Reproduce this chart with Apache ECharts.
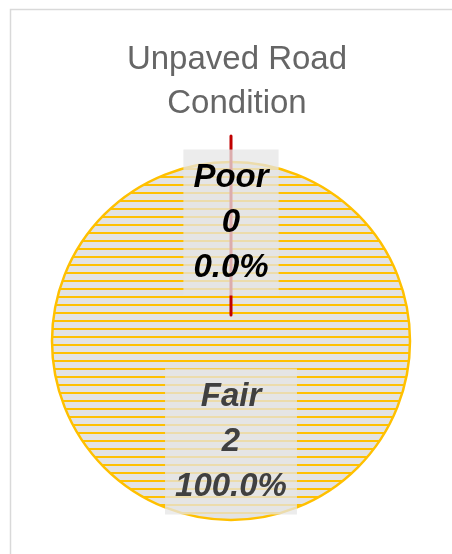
<!DOCTYPE html>
<html>
<head>
<meta charset="utf-8">
<script src="https://cdn.jsdelivr.net/npm/echarts@6/dist/echarts.min.js"></script>
<style>
  html, body { margin: 0; padding: 0; background: #fff; }
  #chart { width: 452px; height: 554px; }
</style>
</head>
<body>
<div id="chart"></div>
<script>
const categories = ['Poor', 'Fair']
const counts = [0, 2]
const titleText = 'Unpaved Road\nCondition'

// striped fill like the excel pattern
function makeStripes () {
  const c = document.createElement('canvas')
  c.width = 8
  c.height = 8
  const ctx = c.getContext('2d')
  ctx.fillStyle = '#e3e3e3'
  ctx.fillRect(0, 0, 8, 8)
  ctx.fillStyle = '#ffc000'
  ctx.fillRect(0, 0, 8, 2)
  return c
}

const chart = echarts.init(document.getElementById('chart'))
const total = counts.reduce((a, b) => a + b, 0)

chart.setOption({
  animation: false,
  title: {
    text: titleText,
    left: 232,
    top: 33,
    textAlign: 'center',
    textStyle: {
      fontFamily: 'Liberation Sans',
      fontSize: 33,
      fontWeight: 'normal',
      color: '#666',
      lineHeight: 44
    }
  },
  graphic: [{
    type: 'rect',
    shape: { x: 10.5, y: 9.5, width: 600, height: 700 },
    style: { fill: 'none', stroke: '#d9d9d9', lineWidth: 1.5 },
    z: -1
  }],
  series: [{
    type: 'pie',
    center: [231, 341],
    radius: 179,
    startAngle: 90,
    clockwise: true,
    minAngle: 0,
    selectedMode: 'single',
    selectedOffset: 26,
    avoidLabelOverlap: false,
    labelLine: { show: false },
    label: {
      show: true,
      position: 'inside',
      formatter: p => p.name + '\n' + p.value + '\n' + (total ? p.value / total * 100 : 0).toFixed(1) + '%',
      fontFamily: 'Liberation Sans',
      fontSize: 33,
      fontWeight: 'bold',
      fontStyle: 'italic',
      lineHeight: 45,
      backgroundColor: 'rgba(230,230,230,0.75)',
      padding: [6, 10, 5, 10]
    },
    data: categories.map((name, i) => {
      const item = { name: name, value: counts[i] }
      if (name === 'Poor') {
        item.selected = true
        item.itemStyle = { color: '#c00000', borderColor: '#c00000', borderWidth: 3 }
        item.label = { color: '#000', offset: [0, -1] }
      } else {
        item.itemStyle = {
          color: { image: makeStripes(), repeat: 'repeat' },
          borderColor: '#ffc000',
          borderWidth: 2.5
        }
        item.label = { color: '#404040', offset: [0, 8] }
      }
      return item
    })
  }]
})
</script>
</body>
</html>
